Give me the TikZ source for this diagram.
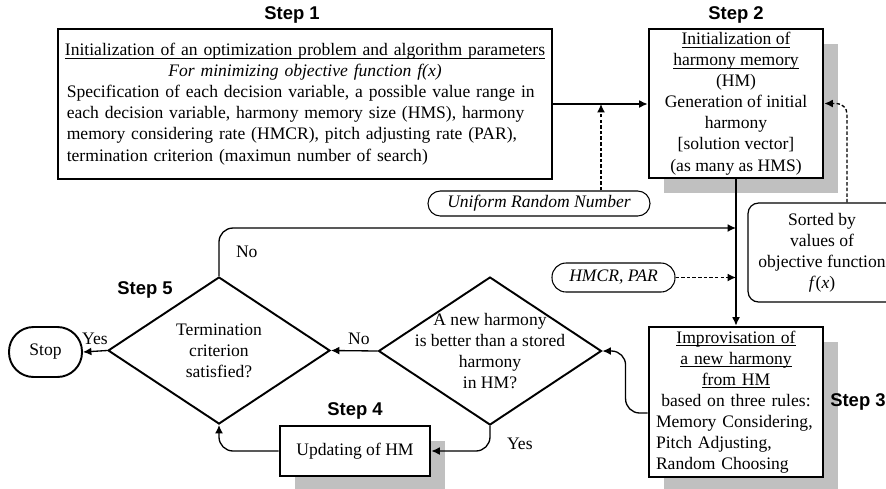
\documentclass[tikz,border=0pt]{standalone}
\usepackage{amsmath}
\usepackage{fontspec}
\setmainfont{Liberation Serif}
\newfontfamily\labelfont{Liberation Sans}
\usetikzlibrary{positioning,arrows.meta,shapes.geometric,shadows}
\usepackage{xcolor}
\definecolor{shadowgray}{RGB}{192,192,192}
\definecolor{inkblack}{RGB}{0,0,0}
\newcommand{\ulbox}[1]{\underline{\smash[b]{#1}}}

\tikzset{
  mainbox/.style={draw=inkblack, line width=1.6pt, fill=white, inner xsep=5pt, inner ysep=1pt},
  shadowbox/.style={mainbox, drop shadow={shadow xshift=0.3cm, shadow yshift=-0.3cm,
      fill=shadowgray, opacity=1}},
  pill/.style={draw=inkblack, line width=0.6pt, inner sep=1pt, font=\fontsize{10}{12}\selectfont\itshape},
  decision/.style={diamond, draw=inkblack, line width=1.1pt, inner sep=0pt},
  steplabel/.style={inner sep=0pt, font=\labelfont\bfseries\fontsize{10.5}{12}\selectfont},
  conn/.style={-{Latex[length=4.8pt,width=4.5pt]}, line width=0.75pt},
  dconn/.style={conn, dash pattern=on 2pt off 1.2pt},
}

\begin{document}
\begin{tikzpicture}[x=0.02cm, y=-0.02cm, font=\fontsize{10}{12}\selectfont]
  \useasboundingbox (0,0) rectangle (886,488);
  \clip (0,0) rectangle (886,488);

  % step labels
  \node[steplabel] (lblone) at (292,15) {Step 1};
  \node[steplabel] (lbltwo) at (736,15) {Step 2};
  \node[steplabel] (lblfour) at (355,411) {Step 4};
  \node[steplabel] (lblfive) at (145,290) {Step 5};

  % boxes
  \node[mainbox, minimum width=9.88cm, minimum height=3cm, text width=9.53cm, align=left]
    (init) at (305,104)
    {\makebox[\linewidth]{\ulbox{Initialization of an optimization problem and algorithm parameters}}\\
     \makebox[\linewidth]{\itshape For minimizing objective function f(x)}\\
     Specification of each decision variable, a possible value range in\\
     each decision variable, harmony memory size (HMS), harmony\\
     memory considering rate (HMCR), pitch adjusting rate (PAR),\\
     termination criterion (maximun number of search)};
  \node[shadowbox, minimum width=3.48cm, minimum height=2.98cm, align=center]
    (hm) at (736,103.5)
    {\ulbox{Initialization of}\\\ulbox{harmony memory}\\(HM)\\Generation of initial\\harmony\\{[solution vector]}\\(as many as HMS)};
  \node[shadowbox, minimum width=3.48cm, minimum height=3cm, inner xsep=4pt, text width=3.2cm, align=left]
    (impro) at (736,402)
    {\makebox[\linewidth]{\ulbox{Improvisation of}}\\
     \makebox[\linewidth]{\ulbox{a new harmony}}\\
     \makebox[\linewidth]{\ulbox{from HM}}\\
     \makebox[\linewidth]{based on three rules:}\\
     \mbox{Memory Considering,}\\
     Pitch Adjusting,\\
     Random Choosing};
  \node[shadowbox, minimum width=3cm, minimum height=1cm] (upd) at (355,451) {Updating of HM};
  \node[steplabel, anchor=east] (lblthree) at (886,402) {Step 3};

  \node[pill, rounded corners=7pt, minimum width=4.44cm, minimum height=0.5cm]
    (urn) at (539,203.5) {Uniform Random Number};
  \node[pill, rounded corners=8pt, minimum width=2.46cm, minimum height=0.58cm]
    (hmcr) at (613.5,277.5) {HMCR, PAR};
  \node[draw=inkblack, line width=0.7pt, rounded corners=6pt, minimum width=2.96cm,
        minimum height=1.98cm, align=center]
    (sorted) at (822,252.5) {Sorted by\\values of\\objective function\\\textit{f}(\textit{x})};

  % decisions
  \node[decision, minimum width=4.46cm, minimum height=2.96cm] (better) at (490,351) {};
  \node[align=center] (bettertxt) at (better) {A new harmony\\is better than a stored\\harmony\\in HM?};
  \node[decision, minimum width=4.44cm, minimum height=2.94cm] (term) at (219,350.5) {};
  \node[align=center] (termtxt) at (term) {Termination\\criterion\\satisfied?};
  \node[draw=inkblack, line width=1.1pt, rounded corners=14pt, minimum width=1.46cm,
        minimum height=1cm] (stop) at (45.5,352) {Stop};

  % connectors
  \coordinate (urnhit) at (601,104);
  \coordinate (loopin) at (736,228);
  \coordinate (parin) at (736,277.5);
  \coordinate (sortup) at (847,0);

  \draw[conn] (init.east) -- (init.east -| hm.west);
  \draw[dconn] (urn.north -| urnhit) -- (urnhit);
  \draw[conn] (hm) -- (impro);
  \draw[conn, rounded corners=8pt] (term.north) |- node[pos=0.25, right=6pt] {No} (loopin);
  \draw[dconn] (hmcr) -- (parin);
  \draw[dconn, rounded corners=6pt] (sorted.north -| sortup) |- (hm.east);
  \draw[conn, rounded corners=8pt] ([yshift=-0.22cm]impro.west) -- ++(-22,0) |- (better.east);
  \draw[conn] (better.west) -- node[above, pos=0.4] {No} (term.east);
  \draw[conn, rounded corners=8pt] (better.south) |- node[pos=0.35, right=6pt] {Yes} (upd.east);
  \draw[conn, rounded corners=8pt] (upd.west) -| (term.south);
  \draw[conn] (term.west) -- node[above] {Yes} (stop.east);
\end{tikzpicture}
\end{document}
